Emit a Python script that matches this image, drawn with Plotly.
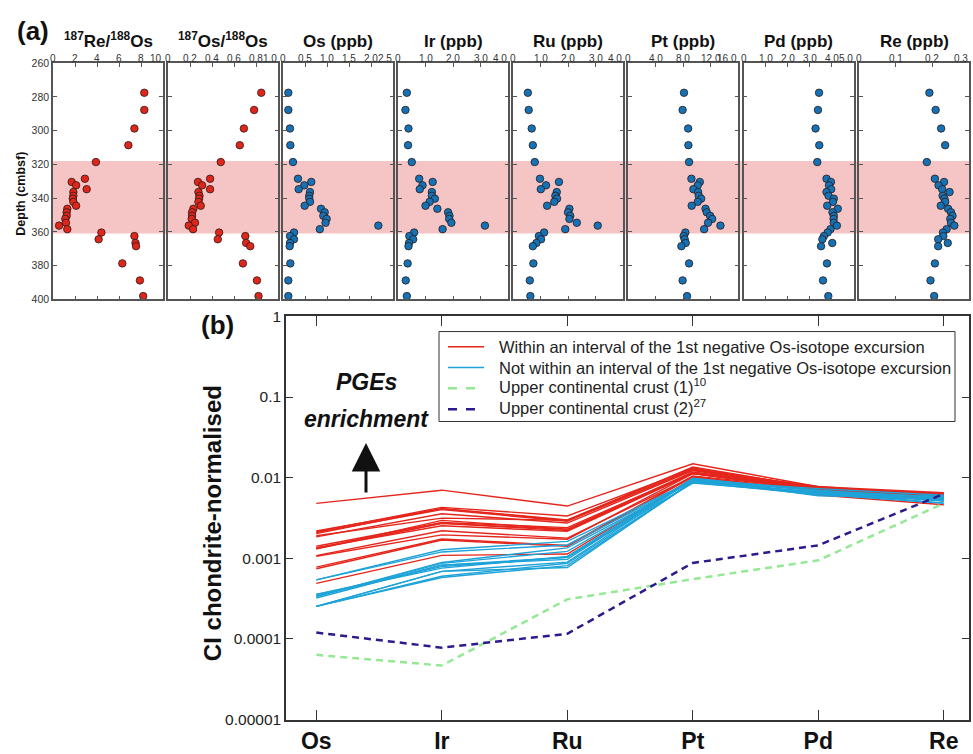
import plotly.graph_objects as go

# ---------------- data (panel a) ----------------
depth = [277.5, 287.7, 298.7, 308.6, 318.6, 328.5, 330.4, 332.4, 334.7, 336.4, 338.6, 340.3,
         342.2, 344.5, 346.3, 348.4, 350.5, 352.3, 354.6, 356.3, 358.4, 360.4, 362.5, 364.4,
         366.6, 368.5, 378.7, 388.8, 398.1]
re_os_ratio = [8.3, 8.3, 7.4, 6.85, 3.9, 2.9, 1.7, 2.1, 3.06, 1.85, 1.85, 1.8, 1.85, 2.1, 1.3, 1.24,
               1.24, 1.12, 1.18, 0.55, 1.3, 4.4, 7.4, 4.15, 7.5, 7.55, 6.3, 7.9, 8.2]
os_os_ratio = [0.845, 0.78, 0.687, 0.65, 0.477, 0.38, 0.27, 0.307, 0.38, 0.274, 0.283, 0.28, 0.274,
               0.295, 0.228, 0.216, 0.216, 0.213, 0.243, 0.186, 0.225, 0.462, 0.70, 0.45, 0.708,
               0.745, 0.678, 0.806, 0.82]
os_ppb = [0.114, 0.114, 0.152, 0.16, 0.22, 0.334, 0.636, 0.477, 0.35, 0.607, 0.59, 0.59, 0.607, 0.486,
          0.857, 0.94, 0.91, 0.985, 0.96, 2.16, 0.83, 0.243, 0.152, 0.243, 0.152, 0.145, 0.16, 0.114, 0.114]
ir_ppb = [0.31, 0.26, 0.37, 0.355, 0.49, 0.76, 1.25, 0.88, 0.78, 1.22, 1.22, 1.33, 1.14, 0.99, 1.42,
          1.81, 1.86, 1.85, 1.93, 3.15, 1.61, 0.575, 0.40, 0.54, 0.39, 0.37, 0.34, 0.27, 0.31]
ru_ppb = [0.53, 0.56, 0.67, 0.71, 0.78, 0.97, 1.66, 1.19, 1.0, 1.58, 1.53, 1.59, 1.49, 1.23, 2.04,
          1.99, 2.07, 2.04, 2.31, 3.07, 1.89, 1.12, 0.93, 1.01, 0.84, 0.71, 0.73, 0.6, 0.62]
pt_ppb = [8.1, 7.9, 8.7, 8.74, 8.84, 9.18, 10.4, 10.1, 9.47, 10.15, 10.25, 10.6, 10.1, 9.22, 11.23,
          11.42, 11.9, 12.2, 11.6, 13.4, 11.03, 8.3, 8.05, 8.2, 8.35, 7.72, 8.84, 7.9, 8.55]
pd_ppb = [3.43, 3.38, 3.27, 3.44, 3.35, 3.77, 3.97, 3.88, 3.98, 3.77, 3.86, 4.1, 4.06, 3.8, 4.28,
          4.04, 4.1, 4.09, 4.1, 4.24, 3.95, 3.82, 3.65, 3.58, 4.03, 3.52, 3.79, 3.61, 3.85]
re_ppb = [0.192, 0.209, 0.224, 0.235, 0.185, 0.207, 0.232, 0.217, 0.227, 0.247, 0.228, 0.233, 0.235,
          0.223, 0.243, 0.251, 0.255, 0.249, 0.251, 0.26, 0.239, 0.229, 0.23, 0.216, 0.242, 0.216,
          0.207, 0.195, 0.205]
excursion_interval = [318, 361]      # pink band, depth (cmbsf)
within_excursion = [False] * 4 + [True] * 17 + [False] * 8   # sample classes used in panel (b)

panel_titles = ["<sup>187</sup>Re/<sup>188</sup>Os", "<sup>187</sup>Os/<sup>188</sup>Os", "Os (ppb)",
                "Ir (ppb)", "Ru (ppb)", "Pt (ppb)", "Pd (ppb)", "Re (ppb)"]
panel_ranges = [[0, 10], [0, 1.0], [0, 2.5], [0, 4.0], [0, 4.0], [0, 16.0], [0, 5.0], [0, 0.3]]
panel_ticks = [[0, 2, 4, 6, 8, 10], [0, 0.2, 0.4, 0.6, 0.8, 1.0], [0, 0.5, 1.0, 1.5, 2.0, 2.5],
               [0, 1, 2, 3, 4], [0, 1, 2, 3, 4], [0, 4, 8, 12, 16], [0, 1, 2, 3, 4, 5], [0, 0.1, 0.2, 0.3]]
panel_ticktext = [["0", "2", "4", "6", "8", "10"], ["0", "0.2", "0.4", "0.6", "0.8", "1.0"],
                  ["0", "0.5", "1.0", "1.5", "2.0", "2.5"], ["0", "1.0", "2.0", "3.0", "4.0"],
                  ["0", "1.0", "2.0", "3.0", "4.0"], ["0", "4.0", "8.0", "12.0", "16.0"],
                  ["0", "1.0", "2.0", "3.0", "4.0", "5.0"], ["0", "0.1", "0.2", "0.3"]]
depth_ticks = [260, 280, 300, 320, 340, 360, 380, 400]

# ---------------- data (panel b) ----------------
elements = ["Os", "Ir", "Ru", "Pt", "Pd", "Re"]
chondrite_norm_ppb = [450, 450, 690, 900, 550, 40]
ucc1_norm = [0.0000635, 0.0000468, 0.00031, 0.000552, 0.000946, 0.00481]
ucc2_norm = [0.00012, 0.000078, 0.000116, 0.000877, 0.00145, 0.0063]
log_ticks = [1, 0.1, 0.01, 0.001, 0.0001, 0.00001]
log_ticktext = ["1", "0.1", "0.01", "0.001", "0.0001", "0.00001"]
legend_labels = ["Within an interval of the 1st negative Os-isotope excursion",
                 "Not within an interval of the 1st negative Os-isotope excursion",
                 "Upper continental crust (1)<sup>10</sup>",
                 "Upper continental crust (2)<sup>27</sup>"]

# ---------------- layout constants ----------------
W, H = 973, 754
FONT = "Arial, Liberation Sans, Helvetica, sans-serif"
RED_M, BLUE_M = "#e0261b", "#1672b6"
RED_L, BLUE_L = "#e5261c", "#1ea3d8"
GREEN_D, NAVY_D = "#95e895", "#2b1b8c"
panel_left = [53, 168.3, 283.3, 398.3, 513.3, 628.3, 743.6, 859]
panel_w = 110
ya_top, ya_bot = 55.5, 297
yb_top, yb_bot = 314.5, 727
xb_left, xb_right = 286, 969
first_px, step_px = 316.3, 125.5

def px(x):
    return x / W

def py(y):
    return 1 - y / H

fig = go.Figure()
layout = dict(width=W, height=H, margin=dict(l=0, r=0, t=0, b=0), paper_bgcolor="white",
              plot_bgcolor="rgba(0,0,0,0)", font=dict(family=FONT, color="#222"),
              showlegend=False)

series = [re_os_ratio, os_os_ratio, os_ppb, ir_ppb, ru_ppb, pt_ppb, pd_ppb, re_ppb]
annotations = []
shapes = [dict(type="rect", xref="paper", yref="y", x0=px(panel_left[0]), x1=px(panel_left[7] + panel_w),
               y0=excursion_interval[0], y1=excursion_interval[1], fillcolor="#f5c4c4",
               line=dict(width=0), layer="below")]
for i in range(8):
    xa = "xaxis" if i == 0 else f"xaxis{i+1}"
    yax = "yaxis" if i == 0 else f"yaxis{i+1}"
    xr = "x" if i == 0 else f"x{i+1}"
    yr = "y" if i == 0 else f"y{i+1}"
    layout[xa] = dict(domain=[px(panel_left[i]), px(panel_left[i] + panel_w)], anchor=yr,
                      range=panel_ranges[i], side="top", tickvals=panel_ticks[i],
                      showticklabels=False, ticks="inside", ticklen=4, tickcolor="#555",
                      showline=True, linecolor="#555", linewidth=1.5, mirror="ticks",
                      showgrid=False, zeroline=False)
    layout[yax] = dict(domain=[py(ya_bot), py(ya_top)], anchor=xr, range=[400, 260],
                       tickvals=depth_ticks, ticks="inside", ticklen=4, tickcolor="#555",
                       showline=True, linecolor="#555", linewidth=1.5, mirror="ticks",
                       showgrid=False, zeroline=False, showticklabels=(i == 0),
                       tickfont=dict(size=10.5, color="#333"))
    if i > 0:
        layout[yax]["matches"] = "y"
    col = RED_M if i < 2 else BLUE_M
    fig.add_trace(go.Scatter(x=series[i], y=depth, mode="markers", xaxis=xr, yaxis=yr,
                             showlegend=False, cliponaxis=False,
                             marker=dict(size=7.5, color=col, line=dict(color="#2a1a18", width=0.8))))
    annotations.append(dict(x=px(panel_left[i] + panel_w / 2), y=py(45.5), xref="paper", yref="paper",
                            text=f"<b>{panel_titles[i]}</b>", showarrow=False,
                            font=dict(size=17, color="#111"), xanchor="center", yanchor="bottom"))
    # top tick labels (last one right-aligned to the frame, as in the original)
    nt = len(panel_ticks[i])
    for j, (tv, tt) in enumerate(zip(panel_ticks[i], panel_ticktext[i])):
        annotations.append(dict(x=tv, xref=xr, y=py(ya_top + 2), yref="paper", text=tt,
                                showarrow=False, xanchor=("right" if j == nt - 1 else "center"),
                                yanchor="bottom", borderpad=0,
                                font=dict(size=10, color="#333")))

# ---------------- panel b ----------------
elem_pos = list(range(len(elements)))
xb_range = [(xb_left - first_px) / step_px, (xb_right - first_px) / step_px]
layout["xaxis9"] = dict(domain=[px(xb_left), px(xb_right)], anchor="y9", range=xb_range,
                        tickvals=elem_pos, ticktext=[f"<b>{e}</b>" for e in elements],
                        ticks="inside", ticklen=10, tickcolor="#333", tickwidth=1.2,
                        showline=True, linecolor="#333", linewidth=1.5, mirror="ticks",
                        showgrid=False, zeroline=False, tickfont=dict(size=23, color="#111"))
layout["yaxis9"] = dict(domain=[py(yb_bot), py(yb_top)], anchor="x9", type="log", range=[-5, 0],
                        tickvals=log_ticks, ticktext=log_ticktext, ticks="inside", ticklen=7,
                        tickcolor="#333", tickwidth=1.2,
                        showline=True, linecolor="#333", linewidth=1.5, mirror="ticks",
                        showgrid=False, zeroline=False, tickfont=dict(size=15.5, color="#222"))

samples = [os_ppb, ir_ppb, ru_ppb, pt_ppb, pd_ppb, re_ppb]
red_idx = [k for k in range(len(depth)) if within_excursion[k]]
blue_idx = [k for k in range(len(depth)) if not within_excursion[k]]
for group, idxs, col, name in (("red", red_idx, RED_L, legend_labels[0]),
                               ("blue", blue_idx, BLUE_L, legend_labels[1])):
    for n, k in enumerate(idxs):
        vals = [samples[j][k] / chondrite_norm_ppb[j] for j in range(6)]
        fig.add_trace(go.Scatter(x=elem_pos, y=vals, mode="lines", xaxis="x9", yaxis="y9",
                                 name=name, legendgroup=group,
                                 line=dict(color=col, width=1.4)))

fig.add_trace(go.Scatter(x=elem_pos, y=ucc1_norm, mode="lines", xaxis="x9", yaxis="y9",
                         name=legend_labels[2], line=dict(color=GREEN_D, width=2.5, dash="7px,5px")))
fig.add_trace(go.Scatter(x=elem_pos, y=ucc2_norm, mode="lines", xaxis="x9", yaxis="y9",
                         name=legend_labels[3], line=dict(color=NAVY_D, width=2.5, dash="7px,5px")))

# legend box drawn as shapes + text
leg_x0, leg_x1, leg_y0, leg_y1 = 439, 955, 330, 422
row_y = [345.5, 366.8, 388.1, 409.4]
leg_styles = [(RED_L, 1.6, "solid"), (BLUE_L, 1.6, "solid"), (GREEN_D, 2.5, "dash"), (NAVY_D, 2.5, "dash")]
shapes.append(dict(type="rect", xref="paper", yref="paper", x0=px(leg_x0), x1=px(leg_x1),
                   y0=py(leg_y1), y1=py(leg_y0), fillcolor="white", line=dict(color="#333", width=1)))
for r in range(4):
    c, w, d = leg_styles[r]
    shapes.append(dict(type="line", xref="paper", yref="paper", x0=px(448), x1=px(484),
                       y0=py(row_y[r]), y1=py(row_y[r]), line=dict(color=c, width=w, dash=d)))
    annotations.append(dict(x=px(497), y=py(row_y[r] + (0 if r < 2 else -2)), xref="paper",
                            yref="paper", text=legend_labels[r], showarrow=False,
                            xanchor="left", yanchor="middle", font=dict(size=16.5, color="#222")))

annotations += [
    dict(x=px(15), y=py(23), xref="paper", yref="paper", text="<b>(a)</b>", showarrow=False,
         font=dict(size=26, color="#111"), xanchor="left", yanchor="middle"),
    dict(x=px(199), y=py(323), xref="paper", yref="paper", text="<b>(b)</b>", showarrow=False,
         font=dict(size=26, color="#111"), xanchor="left", yanchor="middle"),
    dict(x=px(21), y=py(189), xref="paper", yref="paper", text="<b>Depth (cmbsf)</b>",
         showarrow=False, textangle=-90, xanchor="center", yanchor="middle",
         font=dict(size=12.5, color="#111")),
    dict(x=px(212), y=py(526), xref="paper", yref="paper", text="<b>CI chondrite-normalised</b>",
         showarrow=False, textangle=-90, xanchor="center", yanchor="middle",
         font=dict(size=24, color="#111")),
    dict(x=px(366), y=py(382), xref="paper", yref="paper", text="<b><i>PGEs</i></b>",
         showarrow=False, xanchor="center", yanchor="middle", font=dict(size=23, color="#111")),
    dict(x=px(366), y=py(419), xref="paper", yref="paper", text="<b><i>enrichment</i></b>",
         showarrow=False, xanchor="center", yanchor="middle", font=dict(size=23, color="#111")),
    dict(x=px(366), y=py(444), xref="paper", yref="paper", ax=0, ay=51,
         text="", showarrow=True, arrowhead=2, arrowsize=1.9,
         arrowwidth=3, arrowcolor="#111"),
]
layout["annotations"] = annotations
layout["shapes"] = shapes
fig.update_layout(**layout)
fig.write_html("out.html", config={"displayModeBar": False},
               post_script="document.body.style.margin='0px';")
